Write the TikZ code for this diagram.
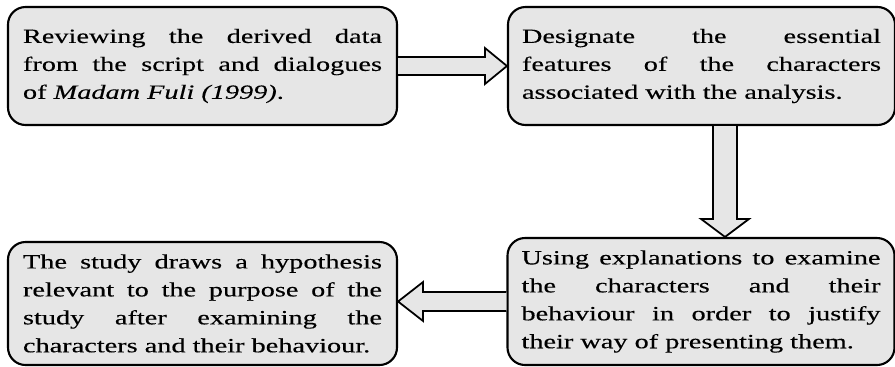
\documentclass[tikz,border=0pt]{standalone}
\usepackage{fontspec}
\setmainfont{Liberation Serif}[FakeStretch=1.4, FakeBold=0.3]
\usetikzlibrary{calc}
\definecolor{boxgray}{HTML}{E6E6E6}
\begin{document}
\begin{tikzpicture}[
    stepbox/.style={rectangle, rounded corners=0.35cm, draw, line width=1.2pt, fill=boxgray,
        text width=7.18cm, align=justify, inner xsep=0.28cm, inner ysep=0pt,
        font=\fontsize{11.5}{15.9}\selectfont},
    hollow/.style={draw, line width=1pt, fill=boxgray, line join=miter}
]
\useasboundingbox (0,0) rectangle (17.9,-7.32);
% Kaesten
\node[stepbox, minimum width=7.78cm, minimum height=2.36cm] at (4.05,-1.32) (review)
    {Reviewing the derived data\linebreak from the script and dialogues\linebreak of \emph{Madam Fuli (1999)}.\par\vspace*{0.22cm}};
\node[stepbox, minimum width=7.68cm, minimum height=2.36cm] at (14.03,-1.32) (designate)
    {Designate the essential\linebreak features of the characters\linebreak associated with the analysis.\par\vspace*{0.22cm}};
\node[stepbox, minimum width=7.68cm, minimum height=2.54cm] at (14.02,-6.03) (explain)
    {Using explanations to examine\linebreak the characters and their\linebreak behaviour in order to justify\linebreak their way of presenting them.};
\node[stepbox, minimum width=7.78cm, minimum height=2.46cm] at (4.05,-6.07) (hypo)
    {The study draws a hypothesis\linebreak relevant to the purpose of the\linebreak study after examining the\linebreak characters and their behaviour.};
% Hohlpfeile
\coordinate (a1) at (designate.west);
\draw[hollow] ($(review.east)+(0,0.18)$) -- ($(a1)+(-0.44,0.18)$) -- ++(0,0.18)
    -- (a1) -- ++(-0.44,-0.36) -- ++(0,0.18) -- ($(review.east)+(0,-0.18)$);
\coordinate (a2s) at ([xshift=0.47cm]designate.south);
\coordinate (a2) at ([xshift=0.47cm]designate.south |- explain.north);
\draw[hollow] ($(a2s)+(-0.24,0)$) -- ($(a2)+(-0.24,0.36)$) -- ++(-0.24,0)
    -- (a2) -- ++(0.48,0.36) -- ++(-0.24,0) -- ($(a2s)+(0.24,0)$);
\coordinate (a3) at (explain.west -| hypo.east);
\draw[hollow] ($(explain.west)+(0,0.19)$) -- ($(a3)+(0.5,0.19)$) -- ++(0,0.2)
    -- (a3) -- ++(0.5,-0.39) -- ++(0,0.2) -- ($(explain.west)+(0,-0.19)$);
\end{tikzpicture}
\end{document}
